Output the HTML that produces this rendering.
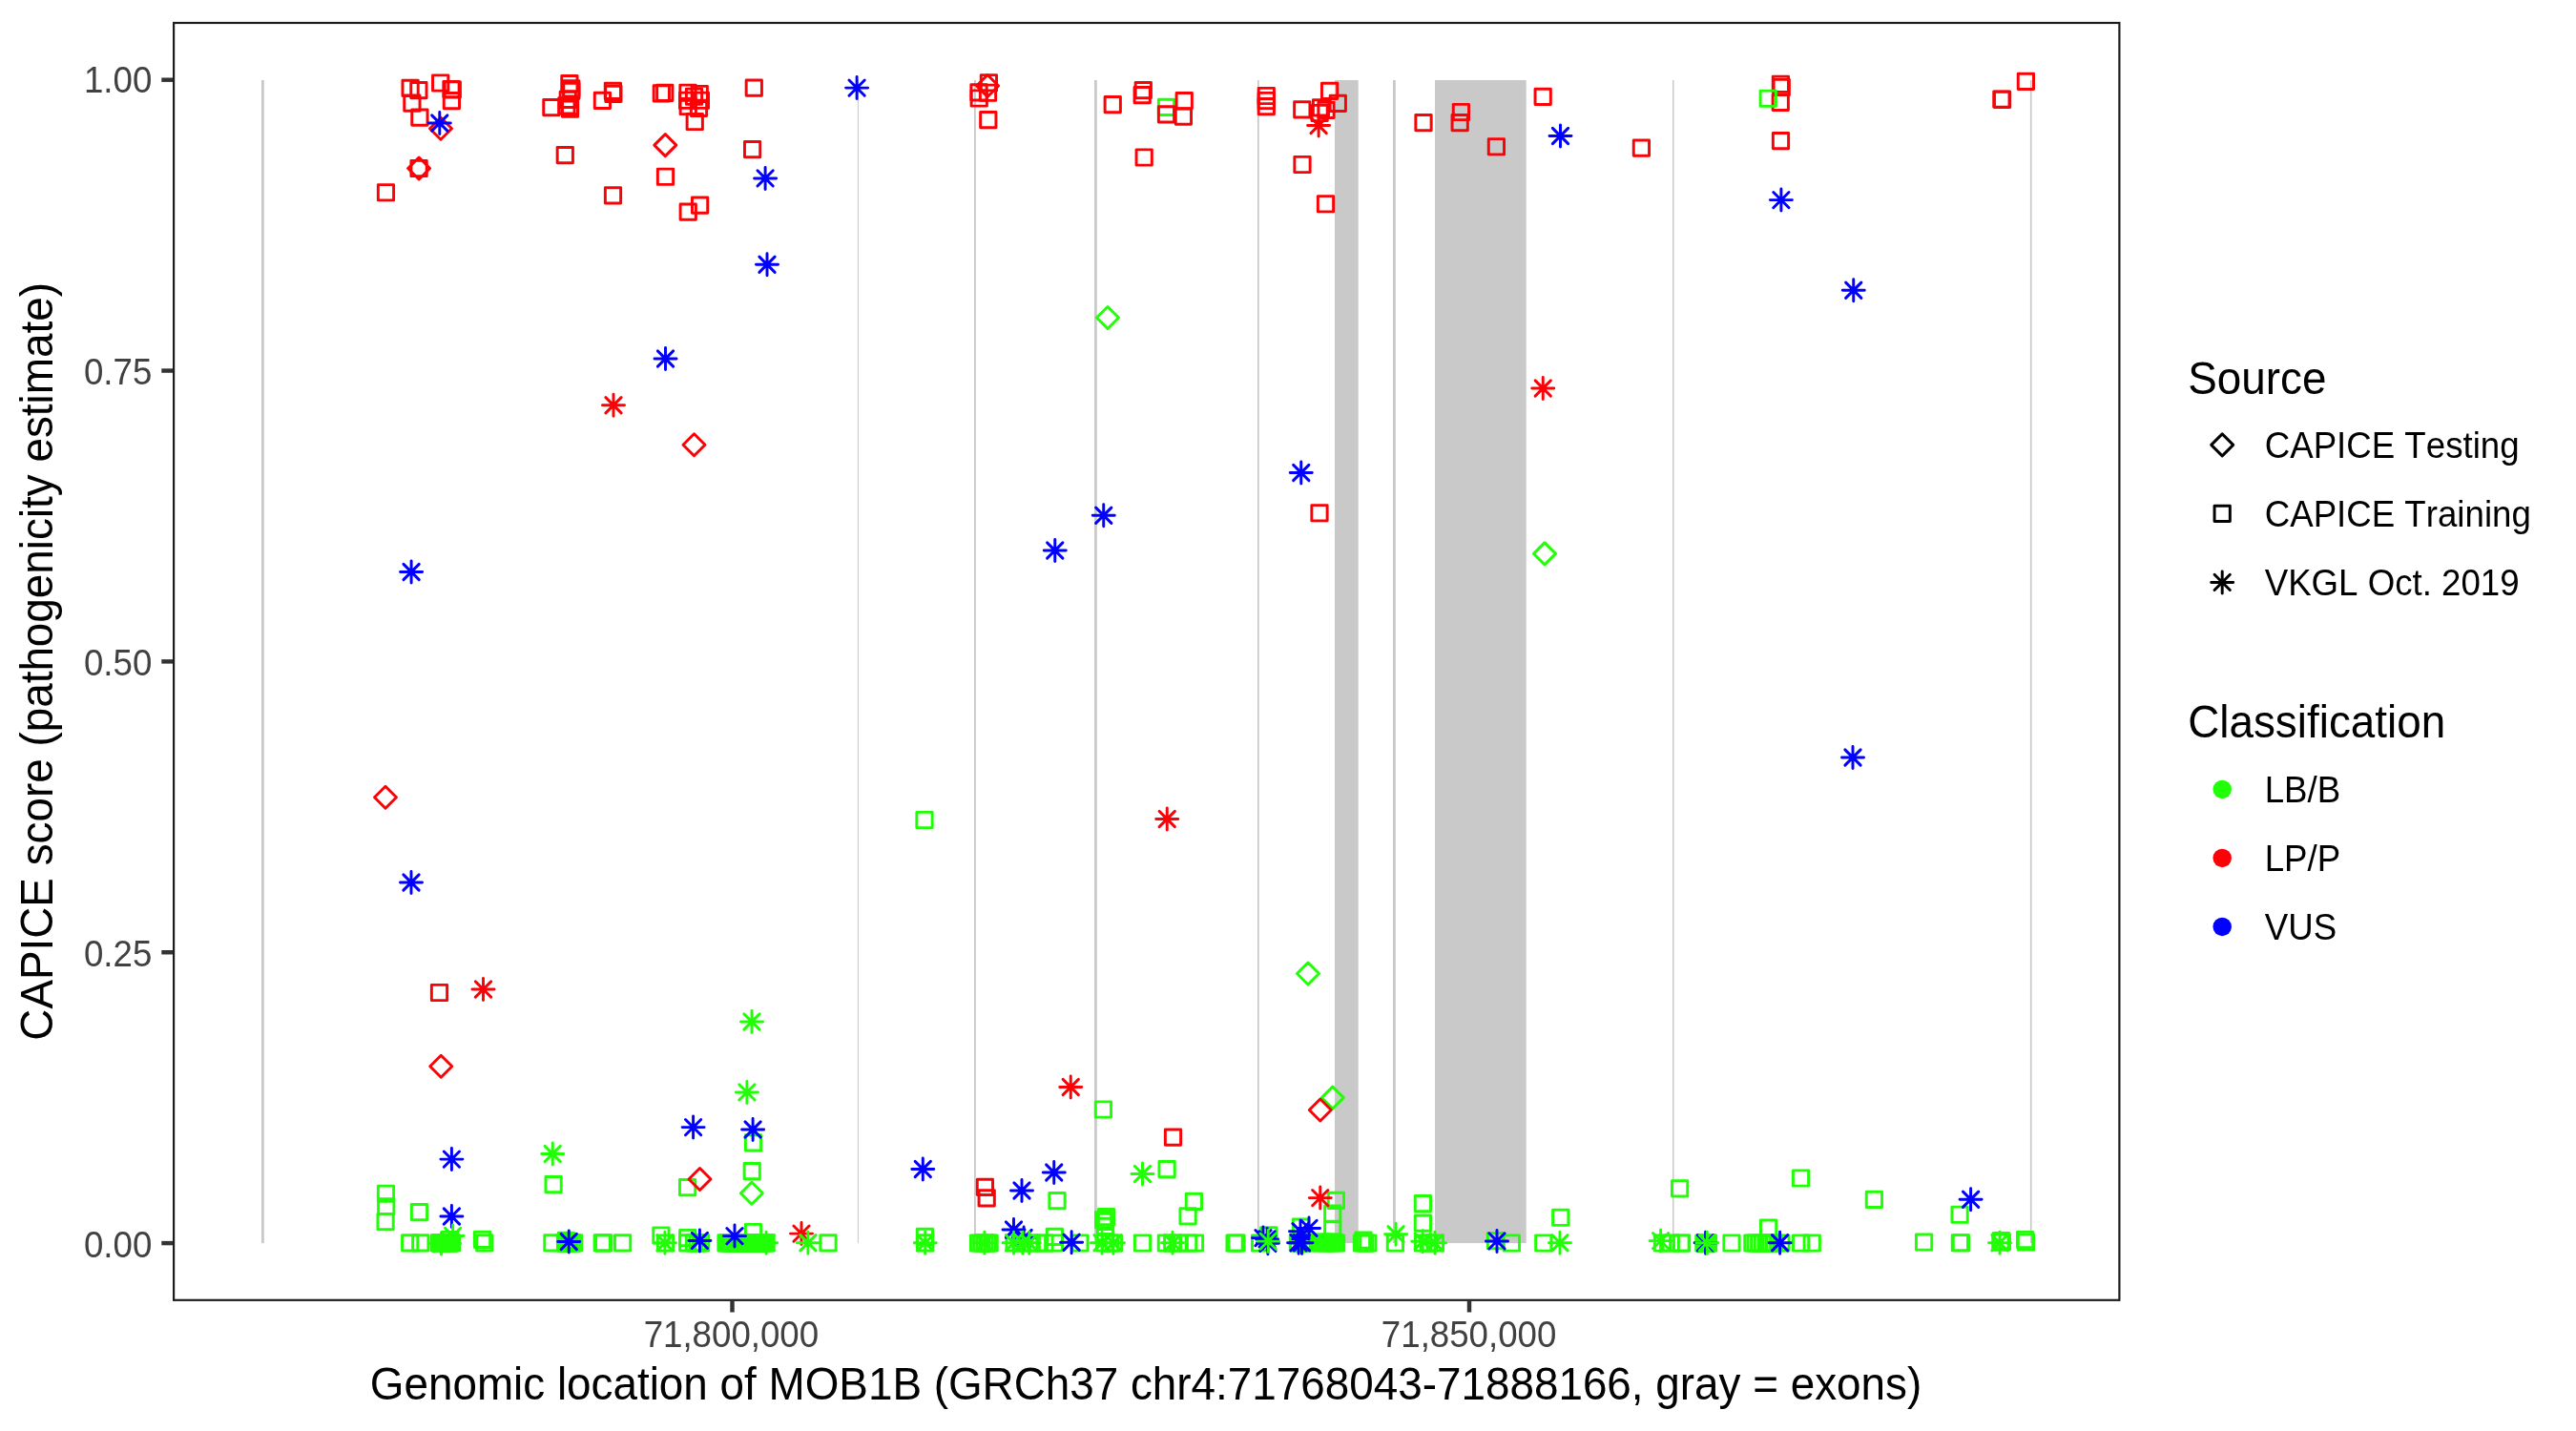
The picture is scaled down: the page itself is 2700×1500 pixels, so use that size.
<!DOCTYPE html>
<html><head><meta charset="utf-8"><title>CAPICE MOB1B</title>
<style>html,body{margin:0;padding:0;background:#fff}svg{display:block;will-change:transform;opacity:0.9999}text{font-kerning:none;font-variant-ligatures:none;font-family:"Liberation Sans",Arial,Helvetica,sans-serif}</style></head><body>
<svg width="2700" height="1500" viewBox="0 0 2700 1500">
<rect width="2700" height="1500" fill="#fff"/>
<g fill="#C9C9C9">
<rect x="274.0" y="84.0" width="2.80" height="1219.10"/>
<rect x="898.9" y="84.0" width="1.00" height="1219.10"/>
<rect x="1021.0" y="84.0" width="1.80" height="1219.10"/>
<rect x="1147.0" y="84.0" width="2.80" height="1219.10"/>
<rect x="1318.0" y="84.0" width="1.70" height="1219.10"/>
<rect x="1399.0" y="84.0" width="24.70" height="1219.10"/>
<rect x="1460.0" y="84.0" width="2.80" height="1219.10"/>
<rect x="1504.0" y="84.0" width="95.70" height="1219.10"/>
<rect x="1753.0" y="84.0" width="1.50" height="1219.10"/>
<rect x="2127.9" y="84.0" width="1.70" height="1219.10"/>
</g>
<g fill="none" stroke-width="2.95" stroke-linecap="round" stroke-linejoin="round">
<rect x="1214.36" y="104.16" width="16.27" height="16.27" stroke="#21FF06"/>
<path d="M1149.49 333.00L1161.00 321.49L1172.51 333.00L1161.00 344.51Z" stroke="#21FF06"/>
<path d="M1607.49 580.40L1619.00 568.89L1630.51 580.40L1619.00 591.91Z" stroke="#21FF06"/>
<rect x="960.86" y="851.36" width="16.27" height="16.27" stroke="#21FF06"/>
<path d="M1359.49 1020.50L1371.00 1008.99L1382.51 1020.50L1371.00 1032.01Z" stroke="#21FF06"/>
<rect x="396.36" y="1243.11" width="16.27" height="16.27" stroke="#21FF06"/>
<rect x="396.61" y="1256.61" width="16.27" height="16.27" stroke="#21FF06"/>
<rect x="395.96" y="1272.46" width="16.27" height="16.27" stroke="#21FF06"/>
<rect x="431.36" y="1262.46" width="16.27" height="16.27" stroke="#21FF06"/>
<rect x="571.96" y="1233.46" width="16.27" height="16.27" stroke="#21FF06"/>
<rect x="421.56" y="1294.66" width="16.27" height="16.27" stroke="#21FF06"/>
<rect x="432.66" y="1294.66" width="16.27" height="16.27" stroke="#21FF06"/>
<rect x="452.11" y="1294.66" width="16.27" height="16.27" stroke="#21FF06"/>
<rect x="454.96" y="1294.66" width="16.27" height="16.27" stroke="#21FF06"/>
<rect x="462.46" y="1294.66" width="16.27" height="16.27" stroke="#21FF06"/>
<rect x="465.36" y="1294.66" width="16.27" height="16.27" stroke="#21FF06"/>
<rect x="499.61" y="1294.66" width="16.27" height="16.27" stroke="#21FF06"/>
<rect x="570.76" y="1294.66" width="16.27" height="16.27" stroke="#21FF06"/>
<rect x="584.36" y="1294.66" width="16.27" height="16.27" stroke="#21FF06"/>
<rect x="585.86" y="1294.66" width="16.27" height="16.27" stroke="#21FF06"/>
<rect x="593.36" y="1294.66" width="16.27" height="16.27" stroke="#21FF06"/>
<rect x="623.11" y="1294.66" width="16.27" height="16.27" stroke="#21FF06"/>
<rect x="624.61" y="1294.66" width="16.27" height="16.27" stroke="#21FF06"/>
<rect x="644.46" y="1294.66" width="16.27" height="16.27" stroke="#21FF06"/>
<rect x="497.46" y="1291.26" width="16.27" height="16.27" stroke="#21FF06"/>
<rect x="781.36" y="1189.76" width="16.27" height="16.27" stroke="#21FF06"/>
<rect x="780.11" y="1219.46" width="16.27" height="16.27" stroke="#21FF06"/>
<rect x="712.46" y="1236.56" width="16.27" height="16.27" stroke="#21FF06"/>
<path d="M776.39 1250.75L787.90 1239.24L799.41 1250.75L787.90 1262.26Z" stroke="#21FF06"/>
<rect x="684.76" y="1286.86" width="16.27" height="16.27" stroke="#21FF06"/>
<rect x="689.36" y="1294.86" width="16.27" height="16.27" stroke="#21FF06"/>
<rect x="712.61" y="1289.36" width="16.27" height="16.27" stroke="#21FF06"/>
<rect x="712.61" y="1294.76" width="16.27" height="16.27" stroke="#21FF06"/>
<rect x="719.36" y="1294.76" width="16.27" height="16.27" stroke="#21FF06"/>
<rect x="723.11" y="1294.76" width="16.27" height="16.27" stroke="#21FF06"/>
<rect x="726.46" y="1294.76" width="16.27" height="16.27" stroke="#21FF06"/>
<rect x="752.86" y="1294.76" width="16.27" height="16.27" stroke="#21FF06"/>
<rect x="756.86" y="1294.76" width="16.27" height="16.27" stroke="#21FF06"/>
<rect x="761.86" y="1294.76" width="16.27" height="16.27" stroke="#21FF06"/>
<rect x="768.11" y="1294.76" width="16.27" height="16.27" stroke="#21FF06"/>
<rect x="773.11" y="1294.76" width="16.27" height="16.27" stroke="#21FF06"/>
<rect x="778.11" y="1294.76" width="16.27" height="16.27" stroke="#21FF06"/>
<rect x="781.86" y="1294.76" width="16.27" height="16.27" stroke="#21FF06"/>
<rect x="788.11" y="1294.76" width="16.27" height="16.27" stroke="#21FF06"/>
<rect x="794.96" y="1294.76" width="16.27" height="16.27" stroke="#21FF06"/>
<rect x="859.86" y="1294.76" width="16.27" height="16.27" stroke="#21FF06"/>
<rect x="961.46" y="1294.76" width="16.27" height="16.27" stroke="#21FF06"/>
<rect x="781.36" y="1283.36" width="16.27" height="16.27" stroke="#21FF06"/>
<rect x="961.26" y="1288.26" width="16.27" height="16.27" stroke="#21FF06"/>
<rect x="1148.26" y="1154.86" width="16.27" height="16.27" stroke="#21FF06"/>
<rect x="1214.96" y="1217.46" width="16.27" height="16.27" stroke="#21FF06"/>
<rect x="1099.86" y="1250.46" width="16.27" height="16.27" stroke="#21FF06"/>
<rect x="1243.26" y="1251.16" width="16.27" height="16.27" stroke="#21FF06"/>
<rect x="1236.96" y="1266.66" width="16.27" height="16.27" stroke="#21FF06"/>
<rect x="1151.36" y="1267.46" width="16.27" height="16.27" stroke="#21FF06"/>
<rect x="1148.46" y="1270.56" width="16.27" height="16.27" stroke="#21FF06"/>
<rect x="1150.36" y="1272.16" width="16.27" height="16.27" stroke="#21FF06"/>
<rect x="1150.36" y="1277.16" width="16.27" height="16.27" stroke="#21FF06"/>
<rect x="1097.26" y="1288.26" width="16.27" height="16.27" stroke="#21FF06"/>
<rect x="1017.46" y="1294.86" width="16.27" height="16.27" stroke="#21FF06"/>
<rect x="1020.61" y="1294.86" width="16.27" height="16.27" stroke="#21FF06"/>
<rect x="1023.76" y="1294.86" width="16.27" height="16.27" stroke="#21FF06"/>
<rect x="1026.86" y="1294.86" width="16.27" height="16.27" stroke="#21FF06"/>
<rect x="1028.96" y="1294.86" width="16.27" height="16.27" stroke="#21FF06"/>
<rect x="1054.96" y="1294.86" width="16.27" height="16.27" stroke="#21FF06"/>
<rect x="1061.86" y="1294.86" width="16.27" height="16.27" stroke="#21FF06"/>
<rect x="1073.11" y="1294.86" width="16.27" height="16.27" stroke="#21FF06"/>
<rect x="1079.36" y="1294.86" width="16.27" height="16.27" stroke="#21FF06"/>
<rect x="1086.86" y="1294.86" width="16.27" height="16.27" stroke="#21FF06"/>
<rect x="1097.26" y="1294.86" width="16.27" height="16.27" stroke="#21FF06"/>
<rect x="1123.76" y="1294.86" width="16.27" height="16.27" stroke="#21FF06"/>
<rect x="1149.61" y="1294.86" width="16.27" height="16.27" stroke="#21FF06"/>
<rect x="1155.61" y="1294.86" width="16.27" height="16.27" stroke="#21FF06"/>
<rect x="1159.36" y="1294.86" width="16.27" height="16.27" stroke="#21FF06"/>
<rect x="1189.36" y="1294.86" width="16.27" height="16.27" stroke="#21FF06"/>
<rect x="1214.26" y="1294.86" width="16.27" height="16.27" stroke="#21FF06"/>
<rect x="1220.61" y="1294.86" width="16.27" height="16.27" stroke="#21FF06"/>
<rect x="1226.86" y="1294.86" width="16.27" height="16.27" stroke="#21FF06"/>
<rect x="1237.46" y="1294.86" width="16.27" height="16.27" stroke="#21FF06"/>
<rect x="1244.36" y="1294.86" width="16.27" height="16.27" stroke="#21FF06"/>
<rect x="1285.96" y="1294.86" width="16.27" height="16.27" stroke="#21FF06"/>
<rect x="1287.86" y="1294.86" width="16.27" height="16.27" stroke="#21FF06"/>
<path d="M1385.29 1150.60L1396.80 1139.09L1408.31 1150.60L1396.80 1162.11Z" stroke="#21FF06"/>
<rect x="1392.26" y="1250.26" width="16.27" height="16.27" stroke="#21FF06"/>
<rect x="1388.61" y="1263.96" width="16.27" height="16.27" stroke="#21FF06"/>
<rect x="1388.61" y="1280.86" width="16.27" height="16.27" stroke="#21FF06"/>
<rect x="1483.26" y="1253.46" width="16.27" height="16.27" stroke="#21FF06"/>
<rect x="1483.26" y="1273.96" width="16.27" height="16.27" stroke="#21FF06"/>
<rect x="1321.61" y="1286.61" width="16.27" height="16.27" stroke="#21FF06"/>
<rect x="1355.36" y="1277.86" width="16.27" height="16.27" stroke="#21FF06"/>
<rect x="1312.46" y="1294.86" width="16.27" height="16.27" stroke="#21FF06"/>
<rect x="1352.46" y="1294.86" width="16.27" height="16.27" stroke="#21FF06"/>
<rect x="1356.86" y="1294.86" width="16.27" height="16.27" stroke="#21FF06"/>
<rect x="1362.46" y="1294.86" width="16.27" height="16.27" stroke="#21FF06"/>
<rect x="1377.46" y="1294.86" width="16.27" height="16.27" stroke="#21FF06"/>
<rect x="1381.86" y="1294.86" width="16.27" height="16.27" stroke="#21FF06"/>
<rect x="1386.86" y="1294.86" width="16.27" height="16.27" stroke="#21FF06"/>
<rect x="1392.46" y="1294.86" width="16.27" height="16.27" stroke="#21FF06"/>
<rect x="1419.36" y="1294.86" width="16.27" height="16.27" stroke="#21FF06"/>
<rect x="1422.46" y="1294.86" width="16.27" height="16.27" stroke="#21FF06"/>
<rect x="1425.61" y="1294.86" width="16.27" height="16.27" stroke="#21FF06"/>
<rect x="1454.26" y="1294.86" width="16.27" height="16.27" stroke="#21FF06"/>
<rect x="1483.36" y="1294.86" width="16.27" height="16.27" stroke="#21FF06"/>
<rect x="1489.36" y="1294.86" width="16.27" height="16.27" stroke="#21FF06"/>
<rect x="1496.26" y="1294.86" width="16.27" height="16.27" stroke="#21FF06"/>
<rect x="1576.26" y="1294.86" width="16.27" height="16.27" stroke="#21FF06"/>
<rect x="1609.66" y="1294.86" width="16.27" height="16.27" stroke="#21FF06"/>
<rect x="1627.61" y="1268.11" width="16.27" height="16.27" stroke="#21FF06"/>
<rect x="1752.46" y="1237.61" width="16.27" height="16.27" stroke="#21FF06"/>
<rect x="1879.36" y="1226.86" width="16.27" height="16.27" stroke="#21FF06"/>
<rect x="1845.46" y="1278.96" width="16.27" height="16.27" stroke="#21FF06"/>
<rect x="1734.36" y="1294.86" width="16.27" height="16.27" stroke="#21FF06"/>
<rect x="1743.11" y="1294.86" width="16.27" height="16.27" stroke="#21FF06"/>
<rect x="1753.86" y="1294.86" width="16.27" height="16.27" stroke="#21FF06"/>
<rect x="1754.46" y="1294.86" width="16.27" height="16.27" stroke="#21FF06"/>
<rect x="1777.76" y="1294.86" width="16.27" height="16.27" stroke="#21FF06"/>
<rect x="1778.86" y="1294.86" width="16.27" height="16.27" stroke="#21FF06"/>
<rect x="1779.86" y="1294.86" width="16.27" height="16.27" stroke="#21FF06"/>
<rect x="1780.86" y="1294.86" width="16.27" height="16.27" stroke="#21FF06"/>
<rect x="1782.36" y="1294.86" width="16.27" height="16.27" stroke="#21FF06"/>
<rect x="1806.86" y="1294.86" width="16.27" height="16.27" stroke="#21FF06"/>
<rect x="1828.76" y="1294.86" width="16.27" height="16.27" stroke="#21FF06"/>
<rect x="1831.86" y="1294.86" width="16.27" height="16.27" stroke="#21FF06"/>
<rect x="1835.61" y="1294.86" width="16.27" height="16.27" stroke="#21FF06"/>
<rect x="1839.36" y="1294.86" width="16.27" height="16.27" stroke="#21FF06"/>
<rect x="1843.11" y="1294.86" width="16.27" height="16.27" stroke="#21FF06"/>
<rect x="1846.86" y="1294.86" width="16.27" height="16.27" stroke="#21FF06"/>
<rect x="1851.26" y="1294.86" width="16.27" height="16.27" stroke="#21FF06"/>
<rect x="1858.76" y="1294.86" width="16.27" height="16.27" stroke="#21FF06"/>
<rect x="1879.46" y="1294.86" width="16.27" height="16.27" stroke="#21FF06"/>
<rect x="1891.11" y="1294.86" width="16.27" height="16.27" stroke="#21FF06"/>
<rect x="1956.26" y="1249.26" width="16.27" height="16.27" stroke="#21FF06"/>
<rect x="2045.96" y="1265.11" width="16.27" height="16.27" stroke="#21FF06"/>
<rect x="2008.46" y="1293.86" width="16.27" height="16.27" stroke="#21FF06"/>
<rect x="2046.26" y="1294.61" width="16.27" height="16.27" stroke="#21FF06"/>
<rect x="2047.26" y="1294.61" width="16.27" height="16.27" stroke="#21FF06"/>
<rect x="2088.76" y="1293.86" width="16.27" height="16.27" stroke="#21FF06"/>
<rect x="2090.26" y="1293.86" width="16.27" height="16.27" stroke="#21FF06"/>
<rect x="2089.36" y="1292.36" width="16.27" height="16.27" stroke="#21FF06"/>
<rect x="2114.46" y="1291.36" width="16.27" height="16.27" stroke="#21FF06"/>
<rect x="2115.36" y="1293.86" width="16.27" height="16.27" stroke="#21FF06"/>
<rect x="1559.36" y="1292.46" width="16.27" height="16.27" stroke="#21FF06"/>
<rect x="1420.86" y="1292.06" width="16.27" height="16.27" stroke="#21FF06"/>
<rect x="453.36" y="1294.46" width="16.27" height="16.27" stroke="#21FF06"/>
<rect x="456.36" y="1294.46" width="16.27" height="16.27" stroke="#21FF06"/>
<rect x="458.36" y="1294.46" width="16.27" height="16.27" stroke="#21FF06"/>
<rect x="460.36" y="1294.46" width="16.27" height="16.27" stroke="#21FF06"/>
<rect x="461.86" y="1294.46" width="16.27" height="16.27" stroke="#21FF06"/>
<rect x="463.86" y="1294.46" width="16.27" height="16.27" stroke="#21FF06"/>
<rect x="463.46" y="1291.36" width="16.27" height="16.27" stroke="#21FF06"/>
<rect x="585.26" y="1294.66" width="16.27" height="16.27" stroke="#21FF06"/>
<rect x="587.06" y="1294.66" width="16.27" height="16.27" stroke="#21FF06"/>
<rect x="588.86" y="1294.66" width="16.27" height="16.27" stroke="#21FF06"/>
<rect x="591.46" y="1294.66" width="16.27" height="16.27" stroke="#21FF06"/>
<rect x="585.26" y="1292.26" width="16.27" height="16.27" stroke="#21FF06"/>
<rect x="754.86" y="1294.76" width="16.27" height="16.27" stroke="#21FF06"/>
<rect x="759.36" y="1294.76" width="16.27" height="16.27" stroke="#21FF06"/>
<rect x="763.86" y="1294.76" width="16.27" height="16.27" stroke="#21FF06"/>
<rect x="765.86" y="1294.76" width="16.27" height="16.27" stroke="#21FF06"/>
<rect x="770.36" y="1294.76" width="16.27" height="16.27" stroke="#21FF06"/>
<rect x="775.36" y="1294.76" width="16.27" height="16.27" stroke="#21FF06"/>
<rect x="779.86" y="1294.76" width="16.27" height="16.27" stroke="#21FF06"/>
<rect x="784.36" y="1294.76" width="16.27" height="16.27" stroke="#21FF06"/>
<rect x="786.36" y="1294.76" width="16.27" height="16.27" stroke="#21FF06"/>
<rect x="790.36" y="1294.76" width="16.27" height="16.27" stroke="#21FF06"/>
<rect x="792.66" y="1294.76" width="16.27" height="16.27" stroke="#21FF06"/>
<rect x="1375.16" y="1294.26" width="16.27" height="16.27" stroke="#21FF06"/>
<rect x="1378.36" y="1294.26" width="16.27" height="16.27" stroke="#21FF06"/>
<rect x="1379.86" y="1294.26" width="16.27" height="16.27" stroke="#21FF06"/>
<rect x="1383.86" y="1294.26" width="16.27" height="16.27" stroke="#21FF06"/>
<rect x="1386.36" y="1294.26" width="16.27" height="16.27" stroke="#21FF06"/>
<rect x="1387.86" y="1294.26" width="16.27" height="16.27" stroke="#21FF06"/>
<rect x="1390.36" y="1294.26" width="16.27" height="16.27" stroke="#21FF06"/>
<rect x="1352.26" y="1294.16" width="16.27" height="16.27" stroke="#21FF06"/>
<rect x="421.96" y="84.26" width="16.27" height="16.27" stroke="#FB0207"/>
<rect x="430.76" y="86.46" width="16.27" height="16.27" stroke="#FB0207"/>
<rect x="423.76" y="99.96" width="16.27" height="16.27" stroke="#FB0207"/>
<rect x="431.76" y="114.96" width="16.27" height="16.27" stroke="#FB0207"/>
<rect x="453.56" y="78.86" width="16.27" height="16.27" stroke="#FB0207"/>
<rect x="464.86" y="85.36" width="16.27" height="16.27" stroke="#FB0207"/>
<rect x="466.16" y="85.86" width="16.27" height="16.27" stroke="#FB0207"/>
<rect x="465.26" y="97.46" width="16.27" height="16.27" stroke="#FB0207"/>
<path d="M450.49 134.80L462.00 123.29L473.51 134.80L462.00 146.31Z" stroke="#FB0207"/>
<rect x="430.96" y="168.36" width="16.27" height="16.27" stroke="#FB0207"/>
<path d="M427.59 176.50L439.10 164.99L450.61 176.50L439.10 188.01Z" stroke="#FB0207"/>
<rect x="396.36" y="193.61" width="16.27" height="16.27" stroke="#FB0207"/>
<rect x="569.76" y="104.46" width="16.27" height="16.27" stroke="#FB0207"/>
<rect x="588.76" y="79.46" width="16.27" height="16.27" stroke="#FB0207"/>
<rect x="590.66" y="84.66" width="16.27" height="16.27" stroke="#FB0207"/>
<rect x="590.66" y="87.16" width="16.27" height="16.27" stroke="#FB0207"/>
<rect x="587.16" y="96.26" width="16.27" height="16.27" stroke="#FB0207"/>
<rect x="589.36" y="105.96" width="16.27" height="16.27" stroke="#FB0207"/>
<rect x="585.76" y="102.76" width="16.27" height="16.27" stroke="#FB0207"/>
<rect x="589.36" y="103.56" width="16.27" height="16.27" stroke="#FB0207"/>
<rect x="623.26" y="97.26" width="16.27" height="16.27" stroke="#FB0207"/>
<rect x="634.26" y="87.16" width="16.27" height="16.27" stroke="#FB0207"/>
<rect x="634.76" y="90.26" width="16.27" height="16.27" stroke="#FB0207"/>
<rect x="685.16" y="89.66" width="16.27" height="16.27" stroke="#FB0207"/>
<rect x="688.66" y="89.16" width="16.27" height="16.27" stroke="#FB0207"/>
<path d="M685.79 152.10L697.30 140.59L708.81 152.10L697.30 163.61Z" stroke="#FB0207"/>
<rect x="584.16" y="154.56" width="16.27" height="16.27" stroke="#FB0207"/>
<rect x="634.36" y="196.66" width="16.27" height="16.27" stroke="#FB0207"/>
<rect x="689.36" y="177.11" width="16.27" height="16.27" stroke="#FB0207"/>
<rect x="712.86" y="89.11" width="16.27" height="16.27" stroke="#FB0207"/>
<rect x="725.11" y="90.36" width="16.27" height="16.27" stroke="#FB0207"/>
<rect x="712.46" y="97.11" width="16.27" height="16.27" stroke="#FB0207"/>
<rect x="726.26" y="97.11" width="16.27" height="16.27" stroke="#FB0207"/>
<rect x="713.11" y="103.36" width="16.27" height="16.27" stroke="#FB0207"/>
<rect x="724.36" y="105.26" width="16.27" height="16.27" stroke="#FB0207"/>
<rect x="719.36" y="93.11" width="16.27" height="16.27" stroke="#FB0207"/>
<rect x="720.11" y="119.36" width="16.27" height="16.27" stroke="#FB0207"/>
<rect x="725.46" y="207.06" width="16.27" height="16.27" stroke="#FB0207"/>
<rect x="713.11" y="214.06" width="16.27" height="16.27" stroke="#FB0207"/>
<rect x="782.16" y="83.96" width="16.27" height="16.27" stroke="#FB0207"/>
<rect x="780.46" y="148.56" width="16.27" height="16.27" stroke="#FB0207"/>
<rect x="1028.26" y="78.61" width="16.27" height="16.27" stroke="#FB0207"/>
<path d="M1023.59 90.00L1035.10 78.49L1046.61 90.00L1035.10 101.51Z" stroke="#FB0207"/>
<rect x="1017.86" y="88.76" width="16.27" height="16.27" stroke="#FB0207"/>
<rect x="1018.11" y="94.86" width="16.27" height="16.27" stroke="#FB0207"/>
<rect x="1027.36" y="89.11" width="16.27" height="16.27" stroke="#FB0207"/>
<rect x="1027.66" y="117.46" width="16.27" height="16.27" stroke="#FB0207"/>
<rect x="1158.11" y="101.46" width="16.27" height="16.27" stroke="#FB0207"/>
<rect x="1190.16" y="86.46" width="16.27" height="16.27" stroke="#FB0207"/>
<rect x="1189.06" y="91.46" width="16.27" height="16.27" stroke="#FB0207"/>
<rect x="1214.36" y="111.76" width="16.27" height="16.27" stroke="#FB0207"/>
<rect x="1233.11" y="97.46" width="16.27" height="16.27" stroke="#FB0207"/>
<rect x="1232.26" y="114.06" width="16.27" height="16.27" stroke="#FB0207"/>
<rect x="1191.06" y="156.86" width="16.27" height="16.27" stroke="#FB0207"/>
<rect x="1319.16" y="92.36" width="16.27" height="16.27" stroke="#FB0207"/>
<rect x="1319.16" y="97.36" width="16.27" height="16.27" stroke="#FB0207"/>
<rect x="1319.16" y="103.46" width="16.27" height="16.27" stroke="#FB0207"/>
<rect x="1356.66" y="106.66" width="16.27" height="16.27" stroke="#FB0207"/>
<rect x="1385.46" y="87.16" width="16.27" height="16.27" stroke="#FB0207"/>
<rect x="1394.16" y="100.16" width="16.27" height="16.27" stroke="#FB0207"/>
<rect x="1376.36" y="104.76" width="16.27" height="16.27" stroke="#FB0207"/>
<rect x="1381.86" y="107.26" width="16.27" height="16.27" stroke="#FB0207"/>
<rect x="1374.96" y="110.36" width="16.27" height="16.27" stroke="#FB0207"/>
<rect x="1356.86" y="164.36" width="16.27" height="16.27" stroke="#FB0207"/>
<rect x="1381.36" y="205.61" width="16.27" height="16.27" stroke="#FB0207"/>
<rect x="1483.86" y="120.46" width="16.27" height="16.27" stroke="#FB0207"/>
<rect x="1523.26" y="109.36" width="16.27" height="16.27" stroke="#FB0207"/>
<rect x="1522.06" y="120.46" width="16.27" height="16.27" stroke="#FB0207"/>
<rect x="1560.26" y="145.61" width="16.27" height="16.27" stroke="#FB0207"/>
<rect x="1609.06" y="93.26" width="16.27" height="16.27" stroke="#FB0207"/>
<rect x="1712.26" y="146.96" width="16.27" height="16.27" stroke="#FB0207"/>
<rect x="1858.26" y="80.11" width="16.27" height="16.27" stroke="#FB0207"/>
<rect x="1859.11" y="83.36" width="16.27" height="16.27" stroke="#FB0207"/>
<rect x="1858.11" y="99.16" width="16.27" height="16.27" stroke="#FB0207"/>
<rect x="1858.36" y="139.56" width="16.27" height="16.27" stroke="#FB0207"/>
<rect x="2115.26" y="77.16" width="16.27" height="16.27" stroke="#FB0207"/>
<rect x="2089.76" y="95.86" width="16.27" height="16.27" stroke="#FB0207"/>
<rect x="2090.46" y="96.16" width="16.27" height="16.27" stroke="#FB0207"/>
<path d="M715.99 466.25L727.50 454.74L739.01 466.25L727.50 477.76Z" stroke="#FB0207"/>
<rect x="1374.86" y="529.61" width="16.27" height="16.27" stroke="#FB0207"/>
<path d="M392.49 835.75L404.00 824.24L415.51 835.75L404.00 847.26Z" stroke="#FB0207"/>
<rect x="452.36" y="1032.36" width="16.27" height="16.27" stroke="#FB0207"/>
<path d="M450.74 1117.75L462.25 1106.24L473.76 1117.75L462.25 1129.26Z" stroke="#FB0207"/>
<path d="M721.99 1236.00L733.50 1224.49L745.01 1236.00L733.50 1247.51Z" stroke="#FB0207"/>
<rect x="1221.36" y="1183.96" width="16.27" height="16.27" stroke="#FB0207"/>
<rect x="1024.26" y="1236.26" width="16.27" height="16.27" stroke="#FB0207"/>
<rect x="1026.06" y="1247.76" width="16.27" height="16.27" stroke="#FB0207"/>
<path d="M1372.29 1163.50L1383.80 1151.99L1395.31 1163.50L1383.80 1175.01Z" stroke="#FB0207"/>
<rect x="1845.11" y="95.11" width="16.27" height="16.27" stroke="#21FF06"/>
<path d="M1356.86 1294.56L1373.14 1310.84M1356.86 1310.84L1373.14 1294.56M1353.49 1302.70L1376.51 1302.70M1365.00 1291.19L1365.00 1314.21" stroke="#21FF06"/>
<path d="M452.66 120.86L468.94 137.14M452.66 137.14L468.94 120.86M449.29 129.00L472.31 129.00M460.80 117.49L460.80 140.51" stroke="#0000FF"/>
<path d="M793.96 178.76L810.24 195.04M793.96 195.04L810.24 178.76M790.59 186.90L813.61 186.90M802.10 175.39L802.10 198.41" stroke="#0000FF"/>
<path d="M889.96 83.96L906.24 100.24M889.96 100.24L906.24 83.96M886.59 92.10L909.61 92.10M898.10 80.59L898.10 103.61" stroke="#0000FF"/>
<path d="M1627.36 134.36L1643.64 150.64M1627.36 150.64L1643.64 134.36M1623.99 142.50L1647.01 142.50M1635.50 130.99L1635.50 154.01" stroke="#0000FF"/>
<path d="M1858.76 201.46L1875.04 217.74M1858.76 217.74L1875.04 201.46M1855.39 209.60L1878.41 209.60M1866.90 198.09L1866.90 221.11" stroke="#0000FF"/>
<path d="M795.86 269.11L812.14 285.39M795.86 285.39L812.14 269.11M792.49 277.25L815.51 277.25M804.00 265.74L804.00 288.76" stroke="#0000FF"/>
<path d="M689.36 367.86L705.64 384.14M689.36 384.14L705.64 367.86M685.99 376.00L709.01 376.00M697.50 364.49L697.50 387.51" stroke="#0000FF"/>
<path d="M422.96 591.36L439.24 607.64M422.96 607.64L439.24 591.36M419.59 599.50L442.61 599.50M431.10 587.99L431.10 611.01" stroke="#0000FF"/>
<path d="M1355.61 487.36L1371.89 503.64M1355.61 503.64L1371.89 487.36M1352.24 495.50L1375.26 495.50M1363.75 483.99L1363.75 507.01" stroke="#0000FF"/>
<path d="M1148.61 532.11L1164.89 548.39M1148.61 548.39L1164.89 532.11M1145.24 540.25L1168.26 540.25M1156.75 528.74L1156.75 551.76" stroke="#0000FF"/>
<path d="M1097.61 568.86L1113.89 585.14M1097.61 585.14L1113.89 568.86M1094.24 577.00L1117.26 577.00M1105.75 565.49L1105.75 588.51" stroke="#0000FF"/>
<path d="M1934.61 296.11L1950.89 312.39M1934.61 312.39L1950.89 296.11M1931.24 304.25L1954.26 304.25M1942.75 292.74L1942.75 315.76" stroke="#0000FF"/>
<path d="M1933.86 785.86L1950.14 802.14M1933.86 802.14L1950.14 785.86M1930.49 794.00L1953.51 794.00M1942.00 782.49L1942.00 805.51" stroke="#0000FF"/>
<path d="M422.86 916.86L439.14 933.14M422.86 933.14L439.14 916.86M419.49 925.00L442.51 925.00M431.00 913.49L431.00 936.51" stroke="#0000FF"/>
<path d="M465.26 1206.96L481.54 1223.24M465.26 1223.24L481.54 1206.96M461.89 1215.10L484.91 1215.10M473.40 1203.59L473.40 1226.61" stroke="#0000FF"/>
<path d="M465.26 1266.86L481.54 1283.14M465.26 1283.14L481.54 1266.86M461.89 1275.00L484.91 1275.00M473.40 1263.49L473.40 1286.51" stroke="#0000FF"/>
<path d="M588.11 1293.36L604.39 1309.64M588.11 1309.64L604.39 1293.36M584.74 1301.50L607.76 1301.50M596.25 1289.99L596.25 1313.01" stroke="#0000FF"/>
<path d="M718.46 1173.46L734.74 1189.74M718.46 1189.74L734.74 1173.46M715.09 1181.60L738.11 1181.60M726.60 1170.09L726.60 1193.11" stroke="#0000FF"/>
<path d="M780.96 1175.86L797.24 1192.14M780.96 1192.14L797.24 1175.86M777.59 1184.00L800.61 1184.00M789.10 1172.49L789.10 1195.51" stroke="#0000FF"/>
<path d="M959.16 1217.36L975.44 1233.64M959.16 1233.64L975.44 1217.36M955.79 1225.50L978.81 1225.50M967.30 1213.99L967.30 1237.01" stroke="#0000FF"/>
<path d="M725.26 1292.26L741.54 1308.54M725.26 1308.54L741.54 1292.26M721.89 1300.40L744.91 1300.40M733.40 1288.89L733.40 1311.91" stroke="#0000FF"/>
<path d="M761.86 1287.46L778.14 1303.74M761.86 1303.74L778.14 1287.46M758.49 1295.60L781.51 1295.60M770.00 1284.09L770.00 1307.11" stroke="#0000FF"/>
<path d="M1096.61 1220.86L1112.89 1237.14M1096.61 1237.14L1112.89 1220.86M1093.24 1229.00L1116.26 1229.00M1104.75 1217.49L1104.75 1240.51" stroke="#0000FF"/>
<path d="M1062.86 1239.86L1079.14 1256.14M1062.86 1256.14L1079.14 1239.86M1059.49 1248.00L1082.51 1248.00M1071.00 1236.49L1071.00 1259.51" stroke="#0000FF"/>
<path d="M1054.36 1280.86L1070.64 1297.14M1054.36 1297.14L1070.64 1280.86M1050.99 1289.00L1074.01 1289.00M1062.50 1277.49L1062.50 1300.51" stroke="#0000FF"/>
<path d="M1114.96 1294.11L1131.24 1310.39M1114.96 1310.39L1131.24 1294.11M1111.59 1302.25L1134.61 1302.25M1123.10 1290.74L1123.10 1313.76" stroke="#0000FF"/>
<path d="M1064.96 1289.36L1081.24 1305.64M1064.96 1305.64L1081.24 1289.36M1061.59 1297.50L1084.61 1297.50M1073.10 1285.99L1073.10 1309.01" stroke="#0000FF"/>
<path d="M1363.86 1279.26L1380.14 1295.54M1363.86 1295.54L1380.14 1279.26M1360.49 1287.40L1383.51 1287.40M1372.00 1275.89L1372.00 1298.91" stroke="#0000FF"/>
<path d="M1354.86 1282.66L1371.14 1298.94M1354.86 1298.94L1371.14 1282.66M1351.49 1290.80L1374.51 1290.80M1363.00 1279.29L1363.00 1302.31" stroke="#0000FF"/>
<path d="M1352.96 1294.56L1369.24 1310.84M1352.96 1310.84L1369.24 1294.56M1349.59 1302.70L1372.61 1302.70M1361.10 1291.19L1361.10 1314.21" stroke="#0000FF"/>
<path d="M1356.36 1294.56L1372.64 1310.84M1356.36 1310.84L1372.64 1294.56M1352.99 1302.70L1376.01 1302.70M1364.50 1291.19L1364.50 1314.21" stroke="#0000FF"/>
<path d="M1315.86 1289.46L1332.14 1305.74M1315.86 1305.74L1332.14 1289.46M1312.49 1297.60L1335.51 1297.60M1324.00 1286.09L1324.00 1309.11" stroke="#0000FF"/>
<path d="M1319.96 1290.76L1336.24 1307.04M1319.96 1307.04L1336.24 1290.76M1316.59 1298.90L1339.61 1298.90M1328.10 1287.39L1328.10 1310.41" stroke="#0000FF"/>
<path d="M1320.76 1295.06L1337.04 1311.34M1320.76 1311.34L1337.04 1295.06M1317.39 1303.20L1340.41 1303.20M1328.90 1291.69L1328.90 1314.71" stroke="#0000FF"/>
<path d="M1560.86 1292.76L1577.14 1309.04M1560.86 1309.04L1577.14 1292.76M1557.49 1300.90L1580.51 1300.90M1569.00 1289.39L1569.00 1312.41" stroke="#0000FF"/>
<path d="M1779.46 1294.66L1795.74 1310.94M1779.46 1310.94L1795.74 1294.66M1776.09 1302.80L1799.11 1302.80M1787.60 1291.29L1787.60 1314.31" stroke="#0000FF"/>
<path d="M1857.46 1294.61L1873.74 1310.89M1857.46 1310.89L1873.74 1294.61M1854.09 1302.75L1877.11 1302.75M1865.60 1291.24L1865.60 1314.26" stroke="#0000FF"/>
<path d="M2057.46 1249.11L2073.74 1265.39M2057.46 1265.39L2073.74 1249.11M2054.09 1257.25L2077.11 1257.25M2065.60 1245.74L2065.60 1268.76" stroke="#0000FF"/>
<path d="M1373.96 123.36L1390.24 139.64M1373.96 139.64L1390.24 123.36M1370.59 131.50L1393.61 131.50M1382.10 119.99L1382.10 143.01" stroke="#FB0207"/>
<path d="M634.86 416.61L651.14 432.89M634.86 432.89L651.14 416.61M631.49 424.75L654.51 424.75M643.00 413.24L643.00 436.26" stroke="#FB0207"/>
<path d="M1609.11 398.86L1625.39 415.14M1609.11 415.14L1625.39 398.86M1605.74 407.00L1628.76 407.00M1617.25 395.49L1617.25 418.51" stroke="#FB0207"/>
<path d="M1215.11 850.36L1231.39 866.64M1215.11 866.64L1231.39 850.36M1211.74 858.50L1234.76 858.50M1223.25 846.99L1223.25 870.01" stroke="#FB0207"/>
<path d="M498.36 1028.86L514.64 1045.14M498.36 1045.14L514.64 1028.86M494.99 1037.00L518.01 1037.00M506.50 1025.49L506.50 1048.51" stroke="#FB0207"/>
<path d="M1114.11 1131.36L1130.39 1147.64M1114.11 1147.64L1130.39 1131.36M1110.74 1139.50L1133.76 1139.50M1122.25 1127.99L1122.25 1151.01" stroke="#FB0207"/>
<path d="M1375.61 1247.46L1391.89 1263.74M1375.61 1263.74L1391.89 1247.46M1372.24 1255.60L1395.26 1255.60M1383.75 1244.09L1383.75 1267.11" stroke="#FB0207"/>
<path d="M831.86 1284.96L848.14 1301.24M831.86 1301.24L848.14 1284.96M828.49 1293.10L851.51 1293.10M840.00 1281.59L840.00 1304.61" stroke="#FB0207"/>
<path d="M779.86 1062.86L796.14 1079.14M779.86 1079.14L796.14 1062.86M776.49 1071.00L799.51 1071.00M788.00 1059.49L788.00 1082.51" stroke="#21FF06"/>
<path d="M774.76 1136.76L791.04 1153.04M774.76 1153.04L791.04 1136.76M771.39 1144.90L794.41 1144.90M782.90 1133.39L782.90 1156.41" stroke="#21FF06"/>
<path d="M571.11 1201.36L587.39 1217.64M571.11 1217.64L587.39 1201.36M567.74 1209.50L590.76 1209.50M579.25 1197.99L579.25 1221.01" stroke="#21FF06"/>
<path d="M1189.36 1222.36L1205.64 1238.64M1189.36 1238.64L1205.64 1222.36M1185.99 1230.50L1209.01 1230.50M1197.50 1218.99L1197.50 1242.01" stroke="#21FF06"/>
<path d="M466.46 1287.26L482.74 1303.54M466.46 1303.54L482.74 1287.26M463.09 1295.40L486.11 1295.40M474.60 1283.89L474.60 1306.91" stroke="#21FF06"/>
<path d="M454.36 1295.36L470.64 1311.64M454.36 1311.64L470.64 1295.36M450.99 1303.50L474.01 1303.50M462.50 1291.99L462.50 1315.01" stroke="#21FF06"/>
<path d="M688.76 1294.61L705.04 1310.89M688.76 1310.89L705.04 1294.61M685.39 1302.75L708.41 1302.75M696.90 1291.24L696.90 1314.26" stroke="#21FF06"/>
<path d="M794.96 1294.61L811.24 1310.89M794.96 1310.89L811.24 1294.61M791.59 1302.75L814.61 1302.75M803.10 1291.24L803.10 1314.26" stroke="#21FF06"/>
<path d="M838.76 1294.61L855.04 1310.89M838.76 1310.89L855.04 1294.61M835.39 1302.75L858.41 1302.75M846.90 1291.24L846.90 1314.26" stroke="#21FF06"/>
<path d="M961.61 1294.61L977.89 1310.89M961.61 1310.89L977.89 1294.61M958.24 1302.75L981.26 1302.75M969.75 1291.24L969.75 1314.26" stroke="#21FF06"/>
<path d="M1023.76 1294.61L1040.04 1310.89M1023.76 1310.89L1040.04 1294.61M1020.39 1302.75L1043.41 1302.75M1031.90 1291.24L1031.90 1314.26" stroke="#21FF06"/>
<path d="M1054.36 1294.61L1070.64 1310.89M1054.36 1310.89L1070.64 1294.61M1050.99 1302.75L1074.01 1302.75M1062.50 1291.24L1062.50 1314.26" stroke="#21FF06"/>
<path d="M1063.76 1294.61L1080.04 1310.89M1063.76 1310.89L1080.04 1294.61M1060.39 1302.75L1083.41 1302.75M1071.90 1291.24L1071.90 1314.26" stroke="#21FF06"/>
<path d="M1070.61 1294.61L1086.89 1310.89M1070.61 1310.89L1086.89 1294.61M1067.24 1302.75L1090.26 1302.75M1078.75 1291.24L1078.75 1314.26" stroke="#21FF06"/>
<path d="M1146.86 1294.61L1163.14 1310.89M1146.86 1310.89L1163.14 1294.61M1143.49 1302.75L1166.51 1302.75M1155.00 1291.24L1155.00 1314.26" stroke="#21FF06"/>
<path d="M1158.76 1294.61L1175.04 1310.89M1158.76 1310.89L1175.04 1294.61M1155.39 1302.75L1178.41 1302.75M1166.90 1291.24L1166.90 1314.26" stroke="#21FF06"/>
<path d="M1220.86 1294.61L1237.14 1310.89M1220.86 1310.89L1237.14 1294.61M1217.49 1302.75L1240.51 1302.75M1229.00 1291.24L1229.00 1314.26" stroke="#21FF06"/>
<path d="M1321.06 1292.96L1337.34 1309.24M1321.06 1309.24L1337.34 1292.96M1317.69 1301.10L1340.71 1301.10M1329.20 1289.59L1329.20 1312.61" stroke="#21FF06"/>
<path d="M1454.96 1285.61L1471.24 1301.89M1454.96 1301.89L1471.24 1285.61M1451.59 1293.75L1474.61 1293.75M1463.10 1282.24L1463.10 1305.26" stroke="#21FF06"/>
<path d="M1483.11 1293.11L1499.39 1309.39M1483.11 1309.39L1499.39 1293.11M1479.74 1301.25L1502.76 1301.25M1491.25 1289.74L1491.25 1312.76" stroke="#21FF06"/>
<path d="M1495.86 1294.61L1512.14 1310.89M1495.86 1310.89L1512.14 1294.61M1492.49 1302.75L1515.51 1302.75M1504.00 1291.24L1504.00 1314.26" stroke="#21FF06"/>
<path d="M1626.86 1294.61L1643.14 1310.89M1626.86 1310.89L1643.14 1294.61M1623.49 1302.75L1646.51 1302.75M1635.00 1291.24L1635.00 1314.26" stroke="#21FF06"/>
<path d="M1732.46 1292.46L1748.74 1308.74M1732.46 1308.74L1748.74 1292.46M1729.09 1300.60L1752.11 1300.60M1740.60 1289.09L1740.60 1312.11" stroke="#21FF06"/>
<path d="M1781.16 1294.66L1797.44 1310.94M1781.16 1310.94L1797.44 1294.66M1777.79 1302.80L1800.81 1302.80M1789.30 1291.29L1789.30 1314.31" stroke="#21FF06"/>
<path d="M2087.86 1294.61L2104.14 1310.89M2087.86 1310.89L2104.14 1294.61M2084.49 1302.75L2107.51 1302.75M2096.00 1291.24L2096.00 1314.26" stroke="#21FF06"/>
</g>
<rect x="182.1" y="24.0" width="2039.3" height="1338.8" fill="none" stroke="#1c1c1c" stroke-width="2.2"/>
<g stroke="#333333" stroke-width="4.45">
<line x1="169.3" y1="1303.10" x2="181.0" y2="1303.10"/>
<line x1="169.3" y1="998.25" x2="181.0" y2="998.25"/>
<line x1="169.3" y1="693.40" x2="181.0" y2="693.40"/>
<line x1="169.3" y1="388.55" x2="181.0" y2="388.55"/>
<line x1="169.3" y1="83.70" x2="181.0" y2="83.70"/>
<line x1="767.5" y1="1363.9" x2="767.5" y2="1375.5"/>
<line x1="1540.0" y1="1363.9" x2="1540.0" y2="1375.5"/>
</g>
<g fill="#414141" font-size="36.67px">
<text transform="translate(159.3,1317.60) scale(1,1.042)" text-anchor="end">0.00</text>
<text transform="translate(159.3,1012.75) scale(1,1.042)" text-anchor="end">0.25</text>
<text transform="translate(159.3,707.90) scale(1,1.042)" text-anchor="end">0.50</text>
<text transform="translate(159.3,403.05) scale(1,1.042)" text-anchor="end">0.75</text>
<text transform="translate(159.3,97.30) scale(1,1.042)" text-anchor="end">1.00</text>
<text transform="translate(766.4,1412.4) scale(1,1.042)" text-anchor="middle">71,800,000</text>
<text transform="translate(1539.6,1412.4) scale(1,1.042)" text-anchor="middle">71,850,000</text>
</g>
<g fill="#000" font-size="45.83px">
<text transform="translate(1201.0,1466.5) scale(1,1.042)" text-anchor="middle">Genomic location of MOB1B (GRCh37 chr4:71768043-71888166, gray = exons)</text>
<text transform="translate(55.1,693.4) rotate(-90) scale(1,1.042)" text-anchor="middle">CAPICE score (pathogenicity estimate)</text>
<text transform="translate(2293.2,413.2) scale(1,1.042)">Source</text>
<text transform="translate(2293.2,773.4) scale(1,1.042)">Classification</text>
</g>
<g fill="#000" font-size="36.67px">
<text transform="translate(2373.7,479.6) scale(1,1.042)">CAPICE Testing</text>
<text transform="translate(2373.7,551.6) scale(1,1.042)">CAPICE Training</text>
<text transform="translate(2373.7,623.6) scale(1,1.042)">VKGL Oct. 2019</text>
<text transform="translate(2373.7,840.6) scale(1,1.042)">LB/B</text>
<text transform="translate(2373.7,912.6) scale(1,1.042)">LP/P</text>
<text transform="translate(2373.7,984.6) scale(1,1.042)">VUS</text>
</g>
<g fill="none" stroke-width="2.95" stroke-linecap="round" stroke-linejoin="round">
<path d="M2317.69 466.40L2329.20 454.89L2340.71 466.40L2329.20 477.91Z" stroke="#000000"/>
<rect x="2321.06" y="530.26" width="16.27" height="16.27" stroke="#000000"/>
<path d="M2321.06 602.26L2337.34 618.54M2321.06 618.54L2337.34 602.26M2317.69 610.40L2340.71 610.40M2329.20 598.89L2329.20 621.91" stroke="#000000"/>
</g>
<circle cx="2329.2" cy="827.4" r="9.75" fill="#21FF06"/>
<circle cx="2329.2" cy="899.4" r="9.75" fill="#FB0207"/>
<circle cx="2329.2" cy="971.4" r="9.75" fill="#0000FF"/>
</svg></body></html>
